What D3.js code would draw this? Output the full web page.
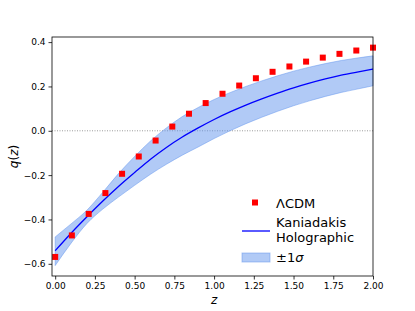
<!DOCTYPE html>
<html>
<head>
<meta charset="utf-8">
<script src="https://d3js.org/d3.v7.min.js"></script>
<style>
    body { margin: 0; background: #fff; }
    text { font-family: "DejaVu Sans", sans-serif; fill: #000; }
    .tick text { font-size: 9px; }
    .tick line { stroke: #000; stroke-width: 0.8; }
    .domain { display: none; }
    .legend text { font-size: 13px; }
</style>
</head>
<body>
<div id="chart"></div>
<script>
// LCDM points
const zLcdm = [0.000, 0.105, 0.211, 0.316, 0.421, 0.526, 0.632, 0.737, 0.842, 0.947,
               1.053, 1.158, 1.263, 1.368, 1.474, 1.579, 1.684, 1.789, 1.895, 2.000];
const qLcdm = [-0.569, -0.472, -0.375, -0.281, -0.194, -0.116, -0.044, 0.019, 0.077, 0.125,
               0.167, 0.204, 0.237, 0.266, 0.290, 0.312, 0.330, 0.347, 0.362, 0.375];

// Kaniadakis holographic fit and 1 sigma band
const zFit = [0.0, 0.1, 0.2, 0.3, 0.4, 0.5, 0.6, 0.7, 0.8, 0.9, 1.0,
              1.1, 1.2, 1.3, 1.4, 1.5, 1.6, 1.7, 1.8, 1.9, 2.0];
const qFit = [-0.541, -0.462, -0.388, -0.317, -0.250, -0.188, -0.128, -0.075, -0.028, 0.013, 0.051,
              0.085, 0.116, 0.144, 0.170, 0.194, 0.215, 0.234, 0.251, 0.265, 0.278];
const qUpper = [-0.479, -0.420, -0.358, -0.277, -0.192, -0.116, -0.046, 0.013, 0.064, 0.105, 0.141,
                0.172, 0.200, 0.225, 0.248, 0.269, 0.287, 0.303, 0.317, 0.328, 0.338];
const qLower = [-0.608, -0.507, -0.418, -0.353, -0.298, -0.246, -0.196, -0.151, -0.110, -0.073, -0.035,
                0.000, 0.032, 0.061, 0.088, 0.113, 0.135, 0.155, 0.173, 0.188, 0.203];

const xTicks = [0, 0.25, 0.5, 0.75, 1.0, 1.25, 1.5, 1.75, 2.0];
const yTicks = [-0.6, -0.4, -0.2, 0.0, 0.2, 0.4];
const legendLabels = ["\u039BCDM", "Kaniadakis", "Holographic", "\u00B11"];

const W = 415, H = 311;
const margin = { top: 37, right: 42, bottom: 35, left: 52 };
const width = W - margin.left - margin.right;
const height = H - margin.top - margin.bottom;

const svg = d3.select("#chart").append("svg")
    .attr("width", W)
    .attr("height", H);

const g = svg.append("g")
    .attr("transform", `translate(${margin.left},${margin.top})`);

const x = d3.scaleLinear().domain([-0.02, 2.0]).range([0, width]);
const y = d3.scaleLinear().domain([-0.655, 0.423]).range([height, 0]);

// zero line
g.append("line")
    .attr("x1", 0).attr("x2", width)
    .attr("y1", y(0)).attr("y2", y(0))
    .attr("stroke", "#808080")
    .attr("stroke-width", 0.8)
    .attr("stroke-dasharray", "1,1.5");

// band
const bandData = zFit.map((z, i) => ({ z, lo: qLower[i], hi: qUpper[i] }));
g.append("path")
    .datum(bandData)
    .attr("fill", "#6495ED")
    .attr("fill-opacity", 0.5)
    .attr("stroke", "#6495ED")
    .attr("stroke-opacity", 0.5)
    .attr("stroke-width", 1)
    .attr("d", d3.area()
        .curve(d3.curveMonotoneX)
        .x(d => x(d.z))
        .y0(d => y(d.lo))
        .y1(d => y(d.hi)));

// fit line
g.append("path")
    .datum(zFit.map((z, i) => ({ z, q: qFit[i] })))
    .attr("fill", "none")
    .attr("stroke", "#0000ff")
    .attr("stroke-width", 1.3)
    .attr("d", d3.line()
        .curve(d3.curveMonotoneX)
        .x(d => x(d.z))
        .y(d => y(d.q)));

// LCDM markers
const ms = 6;
g.selectAll(".pt")
    .data(zLcdm.map((z, i) => ({ z, q: qLcdm[i] })))
    .enter().append("rect")
    .attr("x", d => x(d.z) - ms / 2)
    .attr("y", d => y(d.q) - ms / 2)
    .attr("width", ms)
    .attr("height", ms)
    .attr("fill", "#ff0000");

// axes
g.append("g")
    .attr("transform", `translate(0,${height})`)
    .call(d3.axisBottom(x).tickValues(xTicks).tickFormat(d3.format(".2f")).tickSizeOuter(0).tickSize(3.5).tickPadding(3));

g.append("g")
    .call(d3.axisLeft(y).tickValues(yTicks).tickFormat(d => d3.format(".1f")(d).replace("-", "\u2212")).tickSizeOuter(0).tickSize(3.5).tickPadding(3));

// frame
g.append("rect")
    .attr("width", width)
    .attr("height", height)
    .attr("fill", "none")
    .attr("stroke", "#000")
    .attr("stroke-width", 0.8);

// axis labels
svg.append("text")
    .attr("x", margin.left + x(1.0))
    .attr("y", 304)
    .attr("text-anchor", "middle")
    .attr("font-size", 12)
    .attr("font-style", "italic")
    .text("z");

const yl = svg.append("text")
    .attr("transform", `translate(18,${margin.top + height / 2}) rotate(-90)`)
    .attr("text-anchor", "middle")
    .attr("font-size", 12);
yl.append("tspan").attr("font-style", "italic").text("q");
yl.append("tspan").text("(");
yl.append("tspan").attr("font-style", "italic").text("z");
yl.append("tspan").text(")");

// legend
const lg = svg.append("g").attr("class", "legend");
lg.append("rect")
    .attr("x", 252).attr("y", 199.5)
    .attr("width", ms).attr("height", ms)
    .attr("fill", "#ff0000");
lg.append("text").attr("x", 276).attr("y", 207.5).text(legendLabels[0]);

lg.append("line")
    .attr("x1", 242).attr("x2", 270)
    .attr("y1", 231).attr("y2", 231)
    .attr("stroke", "#0000ff")
    .attr("stroke-width", 1.3);
lg.append("text").attr("x", 276).attr("y", 227).text(legendLabels[1]);
lg.append("text").attr("x", 276).attr("y", 242).text(legendLabels[2]);

lg.append("rect")
    .attr("x", 242).attr("y", 253)
    .attr("width", 28).attr("height", 9)
    .attr("fill", "#6495ED")
    .attr("fill-opacity", 0.5)
    .attr("stroke", "#6495ED")
    .attr("stroke-opacity", 0.5);
const sig = lg.append("text").attr("x", 276).attr("y", 262);
sig.append("tspan").text(legendLabels[3]);
sig.append("tspan").attr("font-style", "italic").text("\u03C3");
</script>
</body>
</html>
